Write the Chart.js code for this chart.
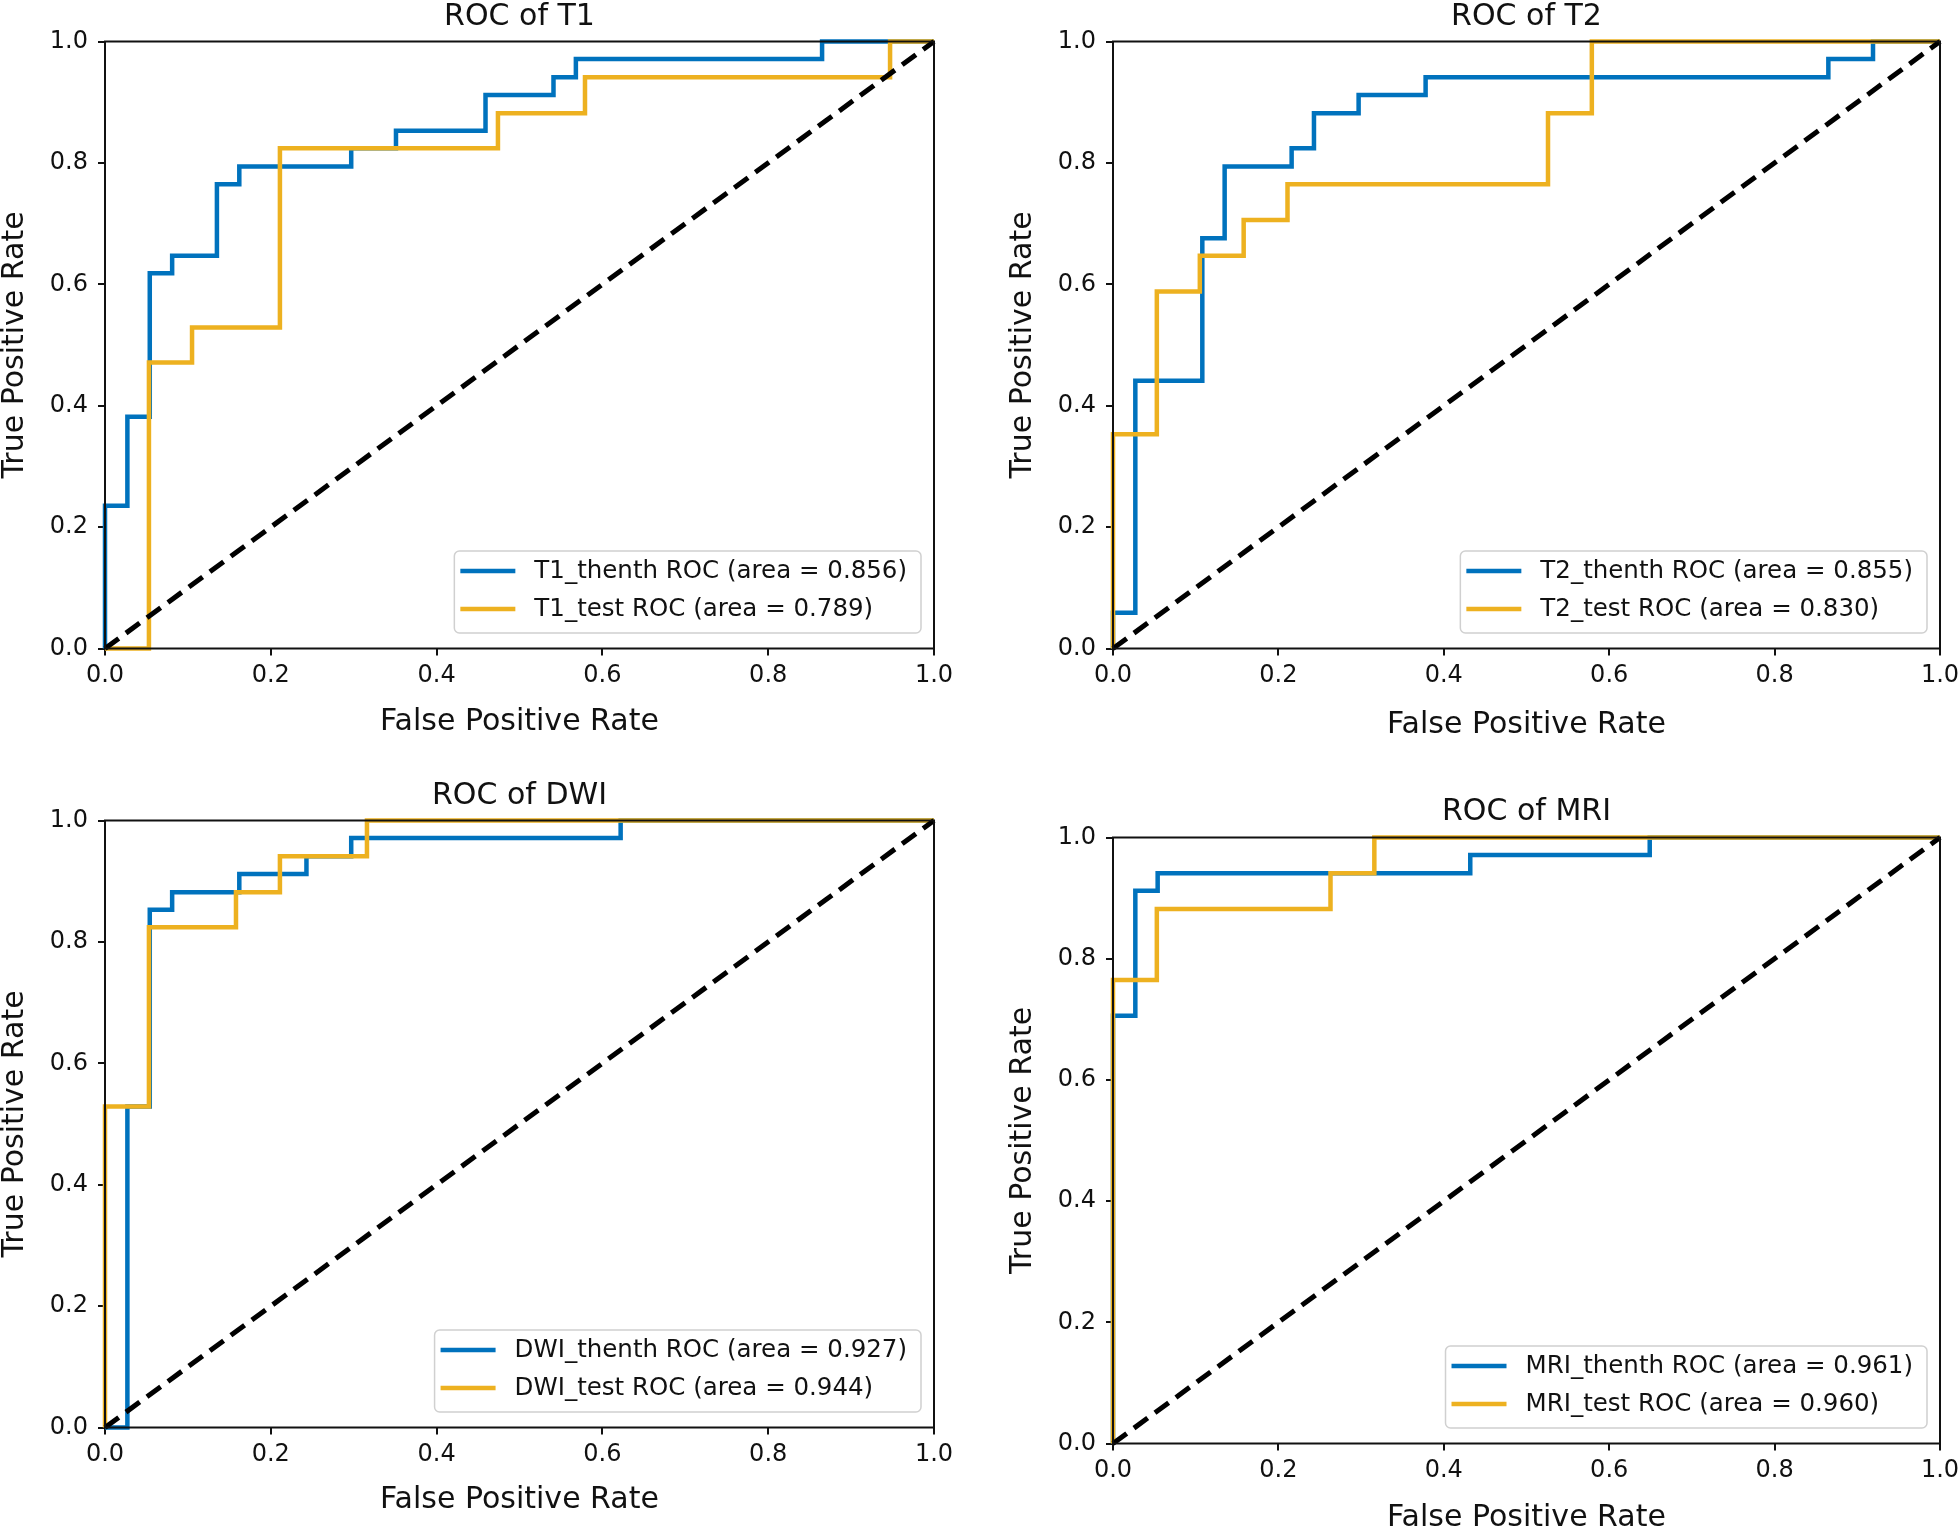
<!DOCTYPE html>
<html>
<head>
<meta charset="utf-8">
<script src="https://cdn.jsdelivr.net/npm/chart.js@4.4.1/dist/chart.umd.min.js"></script>
<style>
  html, body { margin: 0; padding: 0; background: #fff; overflow: hidden; }
  #page { position: relative; width: 1959px; height: 1526px; }
  #page canvas { position: absolute; left: 0; top: 0; }
</style>
</head>
<body>
<div id="page">
  <canvas id="t1" width="1959" height="1526"></canvas>
  <canvas id="t2" width="1959" height="1526"></canvas>
  <canvas id="dwi" width="1959" height="1526"></canvas>
  <canvas id="mri" width="1959" height="1526"></canvas>
</div>
<script>
// ROC step corners (x = FPR, y = TPR)
const t1ThenthFpr = [0, 0, 0.027, 0.054, 0.081, 0.135, 0.162, 0.297, 0.351, 0.459, 0.541, 0.568, 0.865, 1];
const t1ThenthTpr = [0, 0.235, 0.382, 0.618, 0.647, 0.765, 0.794, 0.824, 0.853, 0.912, 0.941, 0.971, 1, 1];
const t1TestFpr = [0, 0.053, 0.105, 0.211, 0.474, 0.579, 0.947, 1];
const t1TestTpr = [0, 0.471, 0.529, 0.824, 0.882, 0.941, 1, 1];

const t2ThenthFpr = [0, 0, 0.027, 0.108, 0.135, 0.216, 0.243, 0.297, 0.378, 0.865, 0.919, 1];
const t2ThenthTpr = [0, 0.059, 0.441, 0.676, 0.794, 0.824, 0.882, 0.912, 0.941, 0.971, 1, 1];
const t2TestFpr = [0, 0, 0.053, 0.105, 0.158, 0.211, 0.526, 0.579, 1];
const t2TestTpr = [0, 0.353, 0.588, 0.647, 0.706, 0.765, 0.882, 1, 1];

const dwiThenthFpr = [0, 0.027, 0.054, 0.081, 0.162, 0.243, 0.297, 0.622, 1];
const dwiThenthTpr = [0, 0.529, 0.853, 0.882, 0.912, 0.941, 0.971, 1, 1];
const dwiTestFpr = [0, 0, 0.053, 0.158, 0.211, 0.316, 1];
const dwiTestTpr = [0, 0.529, 0.824, 0.882, 0.941, 1, 1];

const mriThenthFpr = [0, 0, 0.027, 0.054, 0.432, 0.649, 1];
const mriThenthTpr = [0, 0.706, 0.912, 0.941, 0.971, 1, 1];
const mriTestFpr = [0, 0, 0.053, 0.263, 0.316, 1];
const mriTestTpr = [0, 0.765, 0.882, 0.941, 1, 1];

const chanceFpr = [0, 1];
const chanceTpr = [0, 1];

const panelTitles = ["ROC of T1", "ROC of T2", "ROC of DWI", "ROC of MRI"];
const thenthLabels = [
  "T1_thenth ROC (area = 0.856)",
  "T2_thenth ROC (area = 0.855)",
  "DWI_thenth ROC (area = 0.927)",
  "MRI_thenth ROC (area = 0.961)",
];
const testLabels = [
  "T1_test ROC (area = 0.789)",
  "T2_test ROC (area = 0.830)",
  "DWI_test ROC (area = 0.944)",
  "MRI_test ROC (area = 0.960)",
];
const axisTicks = [0, 0.2, 0.4, 0.6, 0.8, 1.0];

const curves = [
  [t1ThenthFpr, t1ThenthTpr, t1TestFpr, t1TestTpr],
  [t2ThenthFpr, t2ThenthTpr, t2TestFpr, t2TestTpr],
  [dwiThenthFpr, dwiThenthTpr, dwiTestFpr, dwiTestTpr],
  [mriThenthFpr, mriThenthTpr, mriTestFpr, mriTestTpr],
];

// where each subplot sits on the page: plot box [left, top, right, bottom]
const panels = [
  { id: "t1", plot: [105, 41.5, 934, 648.5], titleMid: 17, xTitleMid: 722.5 },
  { id: "t2", plot: [1113, 41.5, 1940, 648.5], titleMid: 17, xTitleMid: 725.5 },
  { id: "dwi", plot: [105, 820.5, 934, 1427.5], titleMid: 796, xTitleMid: 1500 },
  { id: "mri", plot: [1113, 837.5, 1940, 1443.5], titleMid: 812, xTitleMid: 1518 },
];

const PAGE_W = 1959, PAGE_H = 1526;
const FONT = '"DejaVu Sans", "Liberation Sans", sans-serif';
const BLUE = "#0072BD";
const ORANGE = "#EDB120";
const Y_AXIS_W = 105;

const toPoints = (xs, ys) => xs.map((x, i) => ({ x: x, y: ys[i] }));

// closed black frame round the plot (matplotlib spines)
const frame = {
  id: "frame",
  afterDatasetsDraw(chart) {
    const { ctx, chartArea: a } = chart;
    ctx.save();
    ctx.strokeStyle = "#111";
    ctx.lineWidth = 2;
    ctx.strokeRect(a.left, a.top, a.right - a.left, a.bottom - a.top);
    ctx.restore();
  },
};

// legend in the lower right corner, inside the axes
const boxLegend = {
  id: "boxLegend",
  afterDraw(chart) {
    const { ctx, chartArea: a } = chart;
    const items = chart.data.datasets.filter((d) => !d.noLegend);
    ctx.save();
    ctx.font = "24.5px " + FONT;
    const textW = Math.max(...items.map((d) => ctx.measureText(d.label).width));
    const w = 6 + 55 + 19 + textW + 14;
    const h = 82;
    const x = a.right - 13 - w;
    const y = a.bottom - 15.5 - h;
    ctx.beginPath();
    ctx.roundRect(x, y, w, h, 5);
    ctx.fillStyle = "rgba(255,255,255,0.8)";
    ctx.fill();
    ctx.strokeStyle = "#d0d0d0";
    ctx.lineWidth = 1.5;
    ctx.stroke();
    items.forEach((d, i) => {
      const cy = y + 20 + i * 38;
      ctx.beginPath();
      ctx.moveTo(x + 6, cy);
      ctx.lineTo(x + 61, cy);
      ctx.strokeStyle = d.borderColor;
      ctx.lineWidth = 4.5;
      ctx.stroke();
      ctx.fillStyle = "#111";
      ctx.textBaseline = "middle";
      ctx.textAlign = "left";
      ctx.fillText(d.label, x + 80, cy + 1);
    });
    ctx.restore();
  },
};

panels.forEach((p, k) => {
  const [L, T, R, B] = p.plot;
  const [fa, ta, fb, tb] = curves[k];
  const xH = PAGE_H - B;

  new Chart(document.getElementById(p.id), {
    type: "line",
    plugins: [frame, boxLegend],
    data: {
      datasets: [
        {
          label: "chance",
          noLegend: true,
          data: toPoints(chanceFpr, chanceTpr),
          borderColor: "#000",
          borderWidth: 5,
          borderDash: [17, 9],
          order: 0,
        },
        {
          label: thenthLabels[k],
          data: toPoints(fa, ta),
          borderColor: BLUE,
          borderWidth: 4.5,
          stepped: true,
          order: 2,
        },
        {
          label: testLabels[k],
          data: toPoints(fb, tb),
          borderColor: ORANGE,
          borderWidth: 4.5,
          stepped: true,
          order: 1,
        },
      ],
    },
    options: {
      responsive: false,
      animation: false,
      events: [],
      layout: { padding: { left: L - Y_AXIS_W, right: PAGE_W - R, top: 0, bottom: 0 } },
      elements: { point: { radius: 0 }, line: { tension: 0, fill: false } },
      datasets: { line: { clip: false } },
      plugins: {
        legend: { display: false },
        tooltip: { enabled: false },
        title: {
          display: true,
          text: panelTitles[k],
          fullSize: false,
          color: "#111",
          font: { family: FONT, size: 30, weight: "normal", lineHeight: 1 },
          padding: { top: p.titleMid - 15, bottom: T - p.titleMid - 15 },
        },
      },
      scales: {
        x: {
          type: "linear",
          min: 0,
          max: 1,
          afterBuildTicks: (s) => { s.ticks = axisTicks.map((v) => ({ value: v })); },
          afterFit: (s) => { s.height = xH; s.paddingLeft = 0; s.paddingRight = 0; },
          border: { display: false },
          grid: { display: true, drawOnChartArea: false, drawTicks: true, tickLength: 7, color: "#111", lineWidth: 2 },
          ticks: {
            color: "#111",
            padding: 6,
            font: { family: FONT, size: 24 },
            callback: (v) => Number(v).toFixed(1),
          },
          title: {
            display: true,
            text: "False Positive Rate",
            color: "#111",
            font: { family: FONT, size: 30, lineHeight: 1 },
            padding: { top: 0, bottom: PAGE_H - 15 - p.xTitleMid },
          },
        },
        y: {
          type: "linear",
          min: 0,
          max: 1,
          afterBuildTicks: (s) => { s.ticks = axisTicks.map((v) => ({ value: v })); },
          afterFit: (s) => { s.width = Y_AXIS_W; s.paddingTop = 0; s.paddingBottom = 0; },
          border: { display: false },
          grid: { display: true, drawOnChartArea: false, drawTicks: true, tickLength: 7, color: "#111", lineWidth: 2 },
          ticks: {
            color: "#111",
            padding: 10,
            font: { family: FONT, size: 24 },
            callback: (v) => Number(v).toFixed(1),
          },
          title: {
            display: true,
            text: "True Positive Rate",
            color: "#111",
            font: { family: FONT, size: 30, lineHeight: 1 },
            padding: { top: 0, bottom: 0 },
          },
        },
      },
    },
  });
});
</script>
</body>
</html>
